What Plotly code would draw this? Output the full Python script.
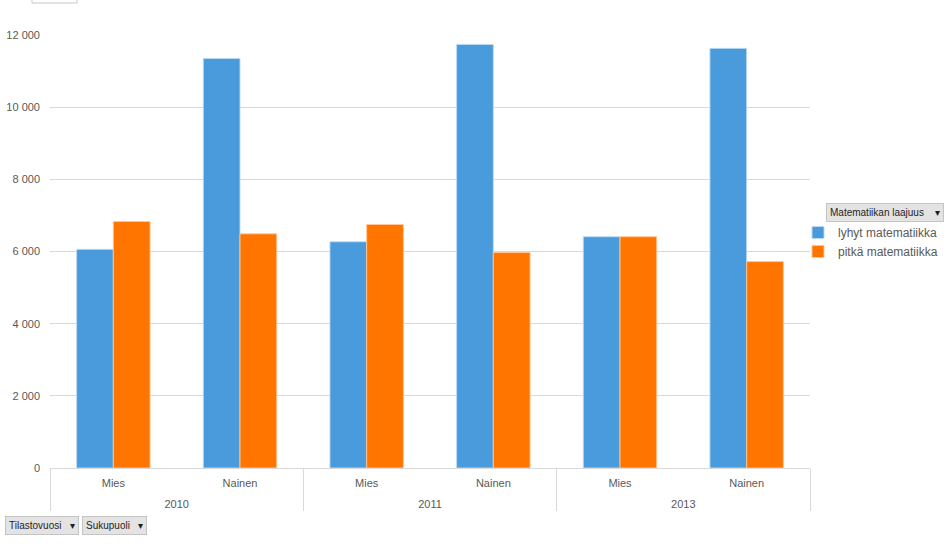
import plotly.graph_objects as go

years = ["2010", "2010", "2011", "2011", "2013", "2013"]
sexes = ["Mies", "Nainen", "Mies", "Nainen", "Mies", "Nainen"]
year_labels = ["2010", "2011", "2013"]
lyhyt = [6060, 11350, 6270, 11740, 6410, 11630]
pitka = [6830, 6490, 6750, 5970, 6410, 5720]
series_names = ["lyhyt matematiikka", "pitkä matematiikka"]
y_ticks = [0, 2000, 4000, 6000, 8000, 10000, 12000]

W, H = 950, 545
L, R, T, B = 50, 810, 35, 468

def px(x):
    return (x - L) / (R - L)

def py(y):
    return (B - y) / (B - T)

n = len(sexes)
idx = list(range(n))
group_size = 2
group_centers = [i * group_size + (group_size - 1) / 2 for i in range(len(year_labels))]
group_edges = [i * group_size - 0.5 for i in range(len(year_labels) + 1)]
xrange = [-0.5, n - 0.5]

fig = go.Figure()
fig.add_trace(go.Bar(x=[years, sexes], y=lyhyt, name=series_names[0],
                     marker=dict(color="#4a9bdb", line=dict(color="rgba(190,220,245,0.9)", width=1))))
fig.add_trace(go.Bar(x=[years, sexes], y=pitka, name=series_names[1],
                     marker=dict(color="#ff7500", line=dict(color="rgba(255,200,150,0.9)", width=1))))
# empty helper traces so the label axes are drawn
fig.add_trace(go.Scatter(x=[], y=[], xaxis="x2", showlegend=False, hoverinfo="skip"))
fig.add_trace(go.Scatter(x=[], y=[], xaxis="x3", showlegend=False, hoverinfo="skip"))

font_family = "Liberation Sans, Arial, sans-serif"
tick_font = dict(size=11, color="#595959", family=font_family)

fig.update_layout(
    width=W, height=H,
    margin=dict(l=L, r=W - R, t=T, b=H - B, autoexpand=False),
    paper_bgcolor="white", plot_bgcolor="white",
    barmode="group", bargap=0.42, bargroupgap=0,
    separators=", ",
    font=dict(family=font_family, size=11, color="#595959"),
    showlegend=True,
    legend=dict(x=px(798), y=py(218), xanchor="left", yanchor="top",
                font=dict(size=12, color="#595959"), itemwidth=30,
                tracegroupgap=0, bgcolor="rgba(0,0,0,0)"),
    xaxis=dict(type="multicategory", showgrid=False, ticks="",
               showline=True, linecolor="#d9d9d9", linewidth=1,
               showdividers=False, showticklabels=False, fixedrange=True),
    xaxis2=dict(overlaying="x", anchor="y", side="bottom", range=xrange,
                tickvals=idx, ticktext=sexes, ticks="", showgrid=False,
                zeroline=False, showline=False, ticklabelstandoff=7,
                tickfont=tick_font, fixedrange=True),
    xaxis3=dict(overlaying="x", anchor="y", side="bottom", range=xrange,
                tickvals=group_centers, ticktext=year_labels, ticks="",
                showgrid=False, zeroline=False, showline=False,
                ticklabelstandoff=28, tickfont=tick_font, fixedrange=True,
                minor=dict(tickvals=group_edges, ticks="outside", ticklen=42,
                           tickcolor="#d9d9d9", tickwidth=1, showgrid=False)),
    yaxis=dict(range=[0, 12000], tickvals=y_ticks, tickformat=",d",
               showgrid=True, gridcolor="#d9d9d9", gridwidth=1,
               zeroline=False, showline=False, ticks="",
               ticklabelstandoff=9,
               tickfont=tick_font, fixedrange=True),
)

# filter buttons (pivot-chart field buttons)
btn_style = dict(showarrow=False, xref="paper", yref="paper",
                 bgcolor="#e3e3e3", bordercolor="#c4c4c4", borderwidth=1,
                 borderpad=3, font=dict(size=10, color="#1f1f1f", family=font_family))
fig.add_annotation(text="Matematiikan laajuus    ▾", x=px(826), y=py(212),
                   xanchor="left", yanchor="middle", **btn_style)
fig.add_annotation(text="Tilastovuosi   ▾", x=px(5), y=py(525),
                   xanchor="left", yanchor="middle", **btn_style)
fig.add_annotation(text="Sukupuoli   ▾", x=px(82), y=py(525),
                   xanchor="left", yanchor="middle", **btn_style)

# partially visible box at top-left
fig.add_shape(type="rect", xref="paper", yref="paper",
              x0=px(32), x1=px(77), y0=py(3), y1=py(-5),
              line=dict(color="#c8c8c8", width=1), fillcolor="white")

fig.write_html("out.html", config={"displayModeBar": False},
               post_script="document.body.style.margin='0';")
